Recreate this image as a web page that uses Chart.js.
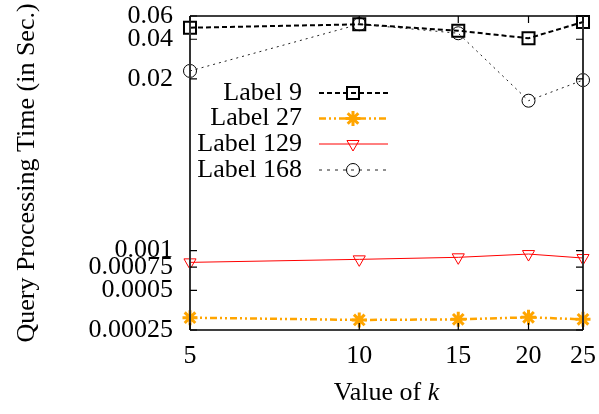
<!DOCTYPE html>
<html lang="en">

<head>
    <meta charset="UTF-8">
    <title>Query Processing Time</title>
    <script src="https://cdn.jsdelivr.net/npm/chart.js"></script>
    <style>
        body { margin: 0; background: #fff; }
        canvas { display: block; }
    </style>
</head>

<body>
    <canvas id="grafico" width="599" height="414"></canvas>
</body>

<script>
    // valores de k (eixo x) e tempos (em segundos)
    const valoresK = [5, 10, 15, 20, 25];
    const label9 = [0.0489, 0.0519, 0.0464, 0.0407, 0.0540];
    const label27 = [0.000310, 0.000298, 0.000301, 0.000312, 0.000301];
    const label129 = [0.000814, 0.000858, 0.000889, 0.000941, 0.000878];
    const label168 = [0.0230, 0.0520, 0.0444, 0.01368, 0.0196];

    const ticksX = [5, 10, 15, 20, 25];
    const ticksY = [0.00025, 0.0005, 0.00075, 0.001, 0.02, 0.04, 0.06];
    const rotulosY = ['0.00025', '0.0005', '0.00075', '0.001', '0.02', '0.04', '0.06'];

    const fonte = 'Liberation Serif, Times New Roman, serif';

    function pontos(valores) {
        return valoresK.map((k, i) => ({ x: k, y: valores[i] }));
    }

    // séries (estilo parecido com gnuplot)
    const series = [
        { label: 'Label 9', data: pontos(label9), borderColor: '#000', borderWidth: 2, borderDash: [5, 3],
          pointStyle: 'rect', pointRadius: 8.5, pointBorderWidth: 2, pointBorderColor: '#000', order: 4 },
        { label: 'Label 27', data: pontos(label27), borderColor: '#FFA500', borderWidth: 2.5, borderDash: [7, 3, 2, 3, 2, 3],
          pointStyle: 'star', pointRadius: 7.5, pointBorderWidth: 3, pointBorderColor: '#FFA500', order: 3 },
        { label: 'Label 129', data: pontos(label129), borderColor: '#FF0000', borderWidth: 1, borderDash: [],
          pointStyle: 'triangle', pointRotation: 180, pointRadius: 7, pointBorderWidth: 1, pointBorderColor: '#FF0000', order: 2 },
        { label: 'Label 168', data: pontos(label168), borderColor: '#222', borderWidth: 1, borderDash: [2, 4],
          pointStyle: 'circle', pointRadius: 6.5, pointBorderWidth: 1, pointBorderColor: '#000', order: 1 }
    ];

    series.forEach(s => {
        s.backgroundColor = 'rgba(0,0,0,0)';
        s.pointBackgroundColor = 'rgba(0,0,0,0)';
        s.fill = false;
        s.tension = 0;
        s.clip = false;
    });

    // desenha um marcador pequeno para a legenda
    function marcador(ctx, estilo, x, y) {
        ctx.save();
        ctx.setLineDash([]);
        ctx.beginPath();
        if (estilo === 'rect') {
            ctx.rect(x - 6, y - 6, 12, 12);
        } else if (estilo === 'star') {
            const r = 7.5, d = r * Math.SQRT1_2;
            ctx.moveTo(x - r, y); ctx.lineTo(x + r, y);
            ctx.moveTo(x, y - r); ctx.lineTo(x, y + r);
            ctx.moveTo(x - d, y - d); ctx.lineTo(x + d, y + d);
            ctx.moveTo(x - d, y + d); ctx.lineTo(x + d, y - d);
        } else if (estilo === 'triangle') {
            const r = 7;
            ctx.moveTo(x, y + r);
            ctx.lineTo(x - r * 0.866, y - r / 2);
            ctx.lineTo(x + r * 0.866, y - r / 2);
            ctx.closePath();
        } else {
            ctx.arc(x, y, 6.5, 0, Math.PI * 2);
        }
        ctx.stroke();
        ctx.restore();
    }

    const molduraGnuplot = {
        id: 'molduraGnuplot',
        afterDraw(chart) {
            const { ctx, chartArea: a, scales } = chart;
            ctx.save();

            // moldura
            ctx.strokeStyle = '#000';
            ctx.lineWidth = 1.5;
            ctx.beginPath();
            ctx.moveTo(a.left, a.top); ctx.lineTo(a.right, a.top);
            ctx.moveTo(a.left, a.bottom); ctx.lineTo(a.right, a.bottom);
            ctx.stroke();
            ctx.strokeStyle = '#333';
            ctx.lineWidth = 2;
            ctx.beginPath();
            ctx.moveTo(a.left, a.top); ctx.lineTo(a.left, a.bottom);
            ctx.moveTo(a.right, a.top); ctx.lineTo(a.right, a.bottom);
            ctx.stroke();

            // ticks para dentro, nos quatro lados
            ctx.strokeStyle = '#000';
            ctx.lineWidth = 1.2;
            ctx.beginPath();
            ticksX.forEach(v => {
                const px = scales.x.getPixelForValue(v);
                ctx.moveTo(px, a.bottom); ctx.lineTo(px, a.bottom - 7);
                ctx.moveTo(px, a.top); ctx.lineTo(px, a.top + 7);
            });
            ticksY.forEach(v => {
                const py = scales.y.getPixelForValue(v);
                ctx.moveTo(a.left, py); ctx.lineTo(a.left + 7, py);
                ctx.moveTo(a.right, py); ctx.lineTo(a.right - 7, py);
            });
            ctx.stroke();

            // titulo do eixo x com k em itálico
            const parte1 = 'Value of ';
            ctx.fillStyle = '#000';
            ctx.textBaseline = 'middle';
            ctx.textAlign = 'left';
            ctx.font = '26px ' + fonte;
            const w1 = ctx.measureText(parte1).width;
            ctx.font = 'italic 26px ' + fonte;
            const w2 = ctx.measureText('k').width;
            let xt = (a.left + a.right) / 2 - (w1 + w2) / 2;
            const yt = a.bottom + 63;
            ctx.font = '26px ' + fonte;
            ctx.fillText(parte1, xt, yt);
            ctx.font = 'italic 26px ' + fonte;
            ctx.fillText('k', xt + w1, yt);

            // legenda dentro do gráfico
            const linhasY = [93, 118.5, 144, 170];
            ctx.font = '26px ' + fonte;
            ctx.textAlign = 'right';
            chart.data.datasets.forEach((ds, i) => {
                const y = linhasY[i];
                ctx.fillStyle = '#000';
                ctx.fillText(ds.label, 302, y);
                ctx.strokeStyle = ds.borderColor;
                ctx.lineWidth = ds.borderWidth;
                ctx.setLineDash(i === 3 ? [3, 5] : ds.borderDash);
                ctx.beginPath();
                ctx.moveTo(319, y); ctx.lineTo(388, y);
                ctx.stroke();
                ctx.strokeStyle = ds.pointBorderColor;
                ctx.lineWidth = ds.pointBorderWidth;
                marcador(ctx, ds.pointStyle, 353, y);
            });
            ctx.restore();
        }
    };

    Chart.defaults.color = '#000';
    Chart.defaults.font.family = fonte;
    Chart.defaults.font.size = 26;

    new Chart(document.getElementById('grafico'), {
        type: 'line',
        data: { datasets: series },
        options: {
            responsive: false,
            devicePixelRatio: 1,
            animation: false,
            layout: { padding: { left: 0, right: 16, top: 16, bottom: 0 } },
            plugins: { legend: { display: false }, tooltip: { enabled: false } },
            scales: {
                x: {
                    type: 'logarithmic',
                    min: 5,
                    max: 25,
                    afterBuildTicks: scale => { scale.ticks = ticksX.map(v => ({ value: v })); },
                    afterFit: scale => {
                        scale.height = 84;
                        scale.paddingLeft = 0;
                        scale.paddingRight = 0;
                    },
                    ticks: { autoSkip: false, maxRotation: 0, padding: 11, callback: v => String(v) },
                    grid: { display: false, drawTicks: false },
                    border: { display: false }
                },
                y: {
                    type: 'logarithmic',
                    min: 0.00025,
                    max: 0.06,
                    afterBuildTicks: scale => { scale.ticks = ticksY.map(v => ({ value: v })); },
                    afterFit: scale => {
                        scale.width = 190;
                        scale.paddingTop = 0;
                        scale.paddingBottom = 0;
                    },
                    ticks: {
                        autoSkip: false,
                        padding: 17,
                        callback: v => {
                            const i = ticksY.findIndex(t => Math.abs(t - v) / t < 1e-6);
                            return i >= 0 ? rotulosY[i] : '';
                        }
                    },
                    grid: { display: false, drawTicks: false },
                    border: { display: false },
                    title: {
                        display: true,
                        text: 'Query Processing Time (in Sec.)',
                        padding: { top: 12, bottom: 0 }
                    }
                }
            }
        },
        plugins: [molduraGnuplot]
    });
</script>

</html>
